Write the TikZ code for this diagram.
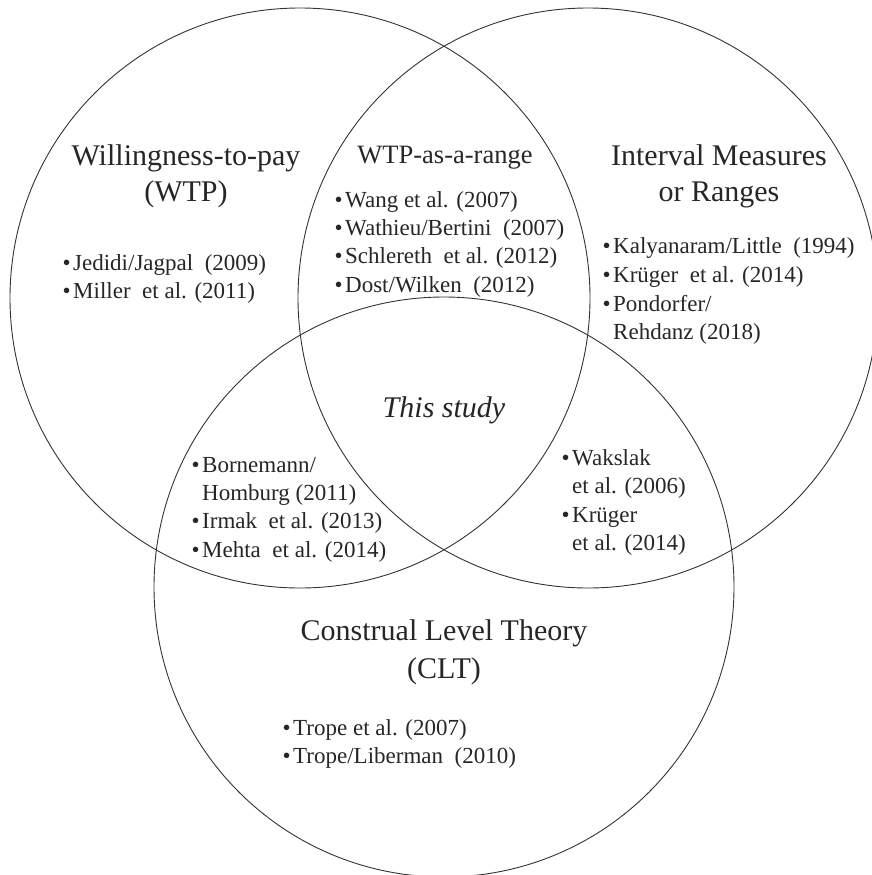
\documentclass[tikz,border=0pt]{standalone}
\usepackage{fontspec}
\setmainfont{Liberation Serif}
\tikzset{
  ring/.style={circle,draw=black!80,line width=0.9pt,inner sep=0pt,minimum size=580pt},
  ttl/.style={anchor=base,inner sep=0pt,text=black!85,font=\fontsize{30}{36}\selectfont},
  subttl/.style={anchor=base,inner sep=0pt,text=black!85,font=\fontsize{26.5}{32}\selectfont},
  item/.style={anchor=base west,inner sep=0pt,text=black!85,font=\fontsize{23}{28}\selectfont},
}
\newcommand\bul{\llap{\textbullet\hspace{2.5pt}}}
\newcommand\dsp{\hspace{0.5em}}
\begin{document}
\begin{tikzpicture}[x=1pt,y=-1pt]
\useasboundingbox (0,0) rectangle (872,875);
\clip (0,0) rectangle (872,875);
% circles
\node[ring] (cwtp) at (300,298) {};
\node[ring] (cint) at (588,298) {};
\node[ring] (cclt) at (444,587) {};
% titles
\node[ttl] (t1a) at (186,165) {Willingness-to-pay};
\node[ttl] (t1b) at (186,201) {(WTP)};
\node[ttl] (t2a) at (719,165) {Interval Measures};
\node[ttl] (t2b) at (719,201) {or Ranges};
\node[subttl] (t3) at (445,163) {WTP-as-a-range};
\node[ttl] (t4a) at (444,640) {Construal Level Theory};
\node[ttl] (t4b) at (444,678) {(CLT)};
\node[ttl,font=\fontsize{30}{36}\selectfont\itshape] (ts) at (444,417) {This study};
% WTP items
\node[item] (a1) at (73,270) {\bul Jedidi/Jagpal\dsp (2009)};
\node[item] (a2) at (73,298) {\bul Miller\dsp et al. (2011)};
% WTP-as-a-range items
\node[item] (b1) at (345,207) {\bul Wang et al. (2007)};
\node[item] (b2) at (345,235) {\bul Wathieu/Bertini\dsp (2007)};
\node[item] (b3) at (345,263) {\bul Schlereth\dsp et al. (2012)};
\node[item] (b4) at (345,292) {\bul Dost/Wilken\dsp (2012)};
% Interval items
\node[item] (c1) at (613,253) {\bul Kalyanaram/Little\dsp (1994)};
\node[item] (c2) at (613,282) {\bul Krüger\dsp et al. (2014)};
\node[item] (c3) at (613,311) {\bul Pondorfer/};
\node[item] (c4) at (613,339) {Rehdanz (2018)};
% WTP & CLT
\node[item] (d1) at (202,472) {\bul Bornemann/};
\node[item] (d2) at (202,500) {Homburg (2011)};
\node[item] (d3) at (202,528) {\bul Irmak\dsp et al. (2013)};
\node[item] (d4) at (202,557) {\bul Mehta\dsp et al. (2014)};
% Interval & CLT
\node[item] (e1) at (572,465) {\bul Wakslak};
\node[item] (e2) at (572,493) {et al. (2006)};
\node[item] (e3) at (572,522) {\bul Krüger};
\node[item] (e4) at (572,550) {et al. (2014)};
% CLT items
\node[item] (f1) at (293,735) {\bul Trope et al. (2007)};
\node[item] (f2) at (293,763) {\bul Trope/Liberman\dsp (2010)};
\end{tikzpicture}
\end{document}
